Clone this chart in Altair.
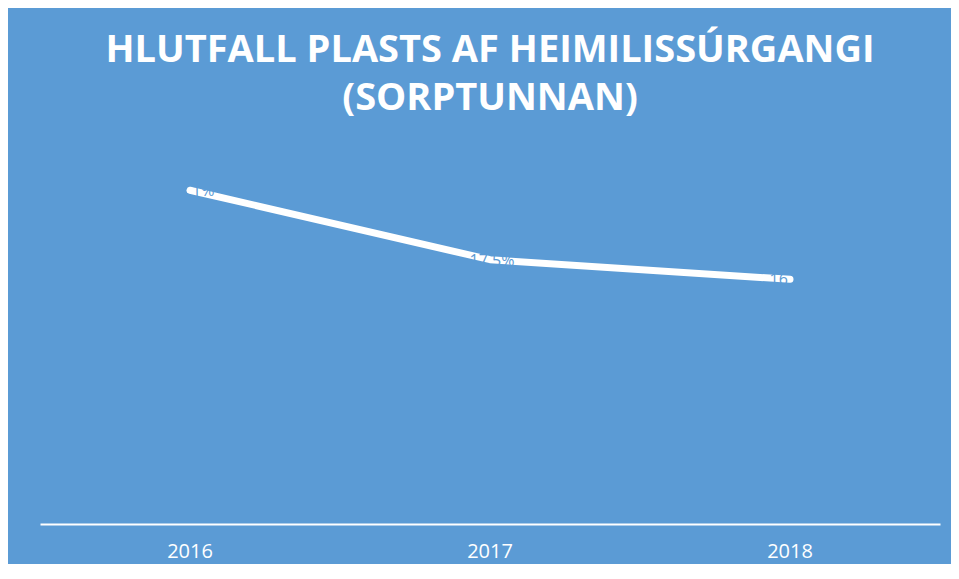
import altair as alt
import pandas as pd

years = ["2016", "2017", "2018"]
shares = [22.1, 17.5, 16.2]
labels = ["22.1%", "17.5%", "16.2%"]

df = pd.DataFrame({"year": years, "share": shares, "label": labels})

BG = "#5B9BD5"

xscale = alt.Scale(type="band", paddingInner=0, paddingOuter=0)
y = alt.Y("share:Q", scale=alt.Scale(domain=[0, 24.5]), axis=None)

line = alt.Chart(df).mark_line(color="white", strokeWidth=7, strokeCap="round",
                               strokeJoin="round").encode(
    x=alt.X("year:N", sort=years, scale=xscale, bandPosition=0.5,
            axis=alt.Axis(title=None, labelAngle=0, labelColor="white", labelFontSize=20,
                          labelFont="Open Sans", labelPadding=27, ticks=False,
                          labelBaseline="middle",
                          domainColor="white", domainWidth=2, grid=False)),
    y=y)

text = alt.Chart(df).mark_text(color=BG, fontSize=16, font="Open Sans", dx=2, dy=1,
                               baseline="middle", align="center").encode(
    x=alt.X("year:N", sort=years, bandPosition=0.5, scale=xscale),
    y=y, text="label:N")

chart = alt.layer(line, text).properties(
    width=900, height=370,
    padding={"left": 32, "top": 146, "right": 11, "bottom": 40},
    autosize=alt.AutoSizeParams(type="none"),
    background=BG,
    title=alt.TitleParams(
        text=["HLUTFALL PLASTS AF HEIMILISSÚRGANGI", "(SORPTUNNAN)"],
        color="white", fontSize=38, font="Open Sans", fontWeight="bold",
        anchor="middle", lineHeight=48, offset=36),
).configure_view(stroke=None)

chart.save("out.html", embed_options={"renderer": "svg", "actions": False})
